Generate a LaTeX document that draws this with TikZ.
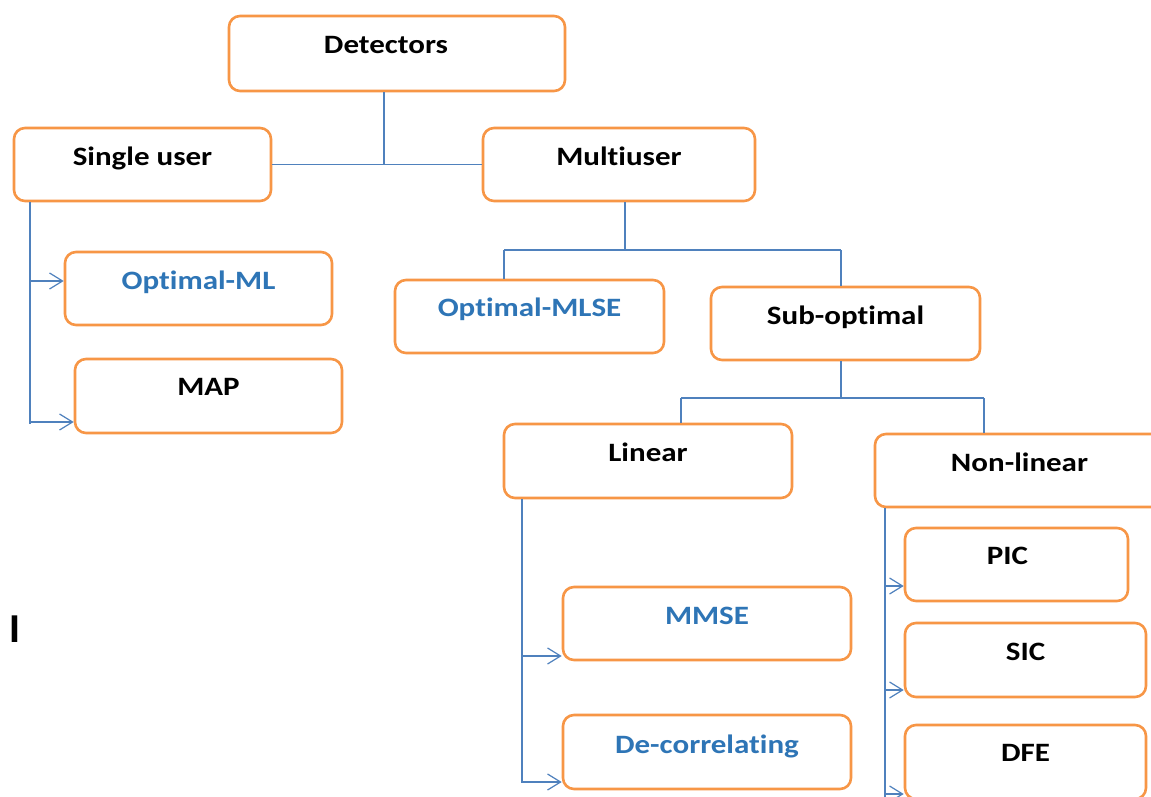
\documentclass[tikz,border=0pt]{standalone}
\usepackage{fontspec}
\setmainfont{Carlito}[FakeStretch=1.17, Ligatures={NoCommon}]
\usetikzlibrary{arrows.meta}
\definecolor{boxorange}{HTML}{F79646}
\definecolor{linkblue}{HTML}{4F81BD}
\definecolor{textblue}{HTML}{2E75B6}
\tikzset{
  box/.style={draw=boxorange, line width=2.6pt, rounded corners=11pt, fill=white, inner sep=0pt},
  tx/.style={font=\fontsize{26.5}{30}\selectfont\bfseries, text=black, inner sep=0pt},
  txb/.style={tx, text=textblue},
  link/.style={draw=linkblue, line width=1.2pt},
  arr/.style={link, -{Straight Barb[length=13pt, width=16pt, line width=1.2pt]}},
}
\begin{document}
\begin{tikzpicture}[x=1pt, y=-1pt]
\clip (0,0) rectangle (1151,797);
\fill[white] (0,0) rectangle (1151,797);

% boxes
\node[box, minimum width=336pt, minimum height=75pt, label={[tx, anchor=base, yshift=-39pt, xshift=-11pt]north:Detectors}] (det) at (397,53.5) {};
\node[box, minimum width=257pt, minimum height=73pt, label={[tx, anchor=base, yshift=-39pt]north:Single user}] (single) at (142.5,164.5) {};
\node[box, minimum width=272pt, minimum height=73pt, label={[tx, anchor=base, yshift=-39pt]north:Multiuser}] (multi) at (619,164.5) {};
\node[box, minimum width=267pt, minimum height=73pt, label={[txb, anchor=base, yshift=-39pt]north:Optimal-ML}] (oml) at (198.5,288.5) {};
\node[box, minimum width=267pt, minimum height=74pt, label={[tx, anchor=base, yshift=-38pt]north:MAP}] (map) at (208.5,396) {};
\node[box, minimum width=269pt, minimum height=73pt, label={[txb, anchor=base, yshift=-38pt]north:Optimal-MLSE}] (mlse) at (529.5,316.5) {};
\node[box, minimum width=269pt, minimum height=73pt, label={[tx, anchor=base, yshift=-39pt]north:Sub-optimal}] (sub) at (845.5,323.5) {};
\node[box, minimum width=288pt, minimum height=74pt, label={[tx, anchor=base, yshift=-39pt]north:Linear}] (lin) at (648,461) {};
\node[box, minimum width=289pt, minimum height=73pt, label={[tx, anchor=base, yshift=-39pt]north:Non-linear}] (nonlin) at (1019.5,470.5) {};
\node[box, minimum width=223pt, minimum height=73pt, label={[tx, anchor=base, yshift=-38pt, xshift=-9pt]north:PIC}] (pic) at (1016.5,564.5) {};
\node[box, minimum width=241pt, minimum height=74pt, label={[tx, anchor=base, yshift=-39pt]north:SIC}] (sic) at (1025.5,660) {};
\node[box, minimum width=241pt, minimum height=74pt, label={[tx, anchor=base, yshift=-38pt]north:DFE}] (dfe) at (1025.5,762) {};
\node[box, minimum width=288pt, minimum height=73pt, label={[txb, anchor=base, yshift=-39pt]north:MMSE}] (mmse) at (707,623.5) {};
\node[box, minimum width=288pt, minimum height=74pt, label={[txb, anchor=base, yshift=-40pt]north:De-correlating}] (dec) at (707,752) {};

% stray mark
\node[font=\fontsize{38}{42}\selectfont\bfseries, inner sep=0pt] (stray) at (15,629) {l};

% Detectors -> Single user / Multiuser
\coordinate (j1) at (384,164.5);
\draw[link] (det.south -| j1) -- (j1);
\draw[link] (single.east) -- (multi.west);

% Multiuser -> Optimal-MLSE / Sub-optimal
\coordinate (m1) at (625,250);
\coordinate (m2) at (504,250);
\coordinate (m3) at (841,250);
\draw[link] (multi.south -| m1) -- (m1);
\draw[link] (m2) -- (m3);
\draw[link] (m2) -- (m2 |- mlse.north);
\draw[link] (m3) -- (m3 |- sub.north);

% Sub-optimal -> Linear / Non-linear
\coordinate (s1) at (841,398);
\coordinate (s2) at (681,398);
\coordinate (s3) at (984,398);
\draw[link] (sub.south -| s1) -- (s1);
\draw[link] (s2) -- (s3);
\draw[link] (s2) -- (s2 |- lin.north);
\draw[link] (s3) -- (s3 |- nonlin.north);

% Single user -> Optimal-ML / MAP
\coordinate (a0) at (30,424);
\coordinate (a1) at (30,281);
\coordinate (a2) at (30,422);
\draw[link] (single.south -| a0) -- (a0);
\draw[arr] (a1) -- (a1 -| oml.west);
\draw[arr] (a2) -- (a2 -| map.west);

% Linear -> MMSE / De-correlating
\coordinate (b0) at (522,783);
\coordinate (b1) at (522,656);
\coordinate (b2) at (522,782);
\draw[link] (lin.south -| b0) -- (b0);
\draw[arr] (b1) -- (b1 -| mmse.west);
\draw[arr] (b2) -- (b2 -| dec.west);

% Non-linear -> PIC / SIC / DFE
\coordinate (c0) at (885,797);
\coordinate (c1) at (885,586);
\coordinate (c2) at (885,690);
\coordinate (c3) at (885,794);
\draw[link] (nonlin.south -| c0) -- (c0);
\draw[arr] (c1) -- (c1 -| pic.west);
\draw[arr] (c2) -- (c2 -| sic.west);
\draw[arr] (c3) -- (c3 -| dfe.west);
\end{tikzpicture}
\end{document}
